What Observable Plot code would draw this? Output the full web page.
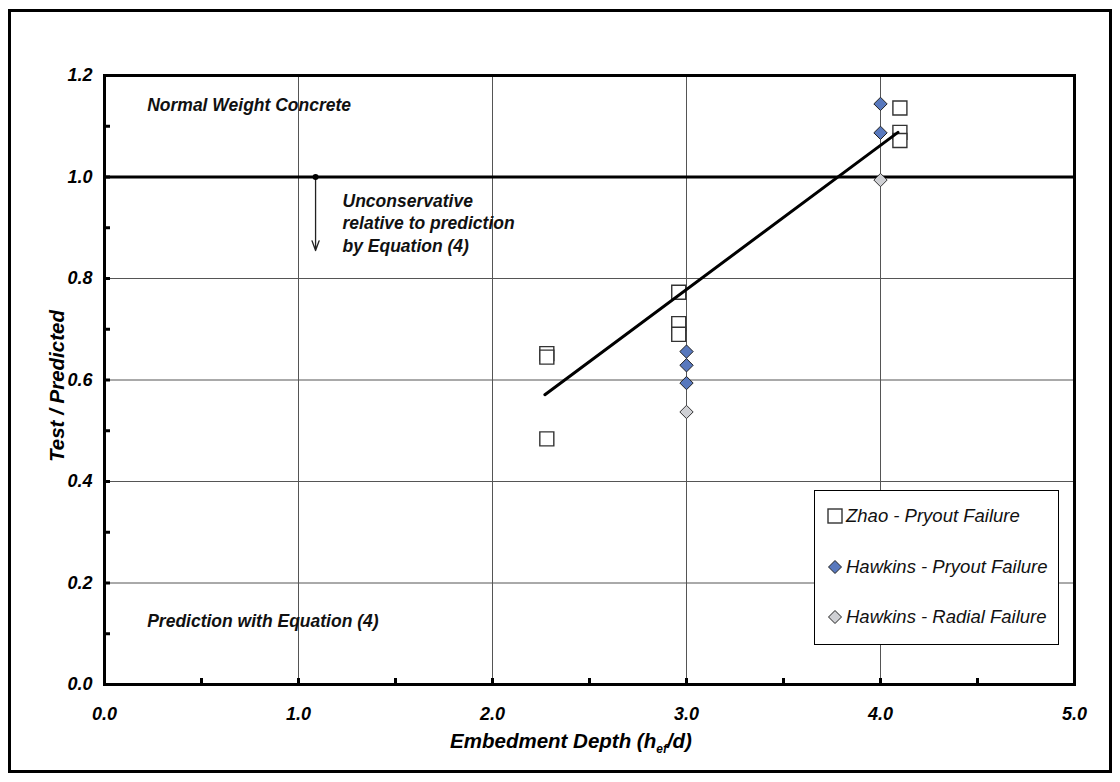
<!DOCTYPE html>
<html><head><meta charset="utf-8">
<script src="https://cdn.jsdelivr.net/npm/d3@7"></script>
<script src="https://cdn.jsdelivr.net/npm/@observablehq/plot@0.6"></script>
<style>
body{margin:0;background:#fff;font-family:"Liberation Sans",Arial,sans-serif;}
#wrap{position:relative;width:1120px;height:782px;overflow:hidden;}
#border{position:absolute;left:8px;top:9px;width:1098px;height:758px;border:3px solid #000;pointer-events:none;}
#legend{position:absolute;left:814px;top:490px;width:243px;height:153px;border:1px solid #000;background:#fff;}
.row{position:absolute;left:12px;height:24px;display:flex;align-items:center;font-style:italic;font-size:18.5px;color:#111;white-space:nowrap;}
.row svg{margin-right:3px;}
</style></head>
<body><div id="wrap"><div id="chart"></div><div id="border"></div><div id="legend"></div></div>
<script>
// ---- data ----
const zhaoX = [2.28, 2.28, 2.28, 2.96, 2.96, 2.96, 4.10, 4.10, 4.10];
const zhaoY = [0.652, 0.645, 0.484, 0.773, 0.711, 0.690, 1.136, 1.088, 1.072];
const hawkPryX = [3.0, 3.0, 3.0, 4.0, 4.0];
const hawkPryY = [0.656, 0.629, 0.594, 1.144, 1.087];
const hawkRadX = [3.0, 4.0];
const hawkRadY = [0.537, 0.994];
const trendX = [2.27, 4.09];
const trendY = [0.571, 1.088];
const xTicks = [0, 1, 2, 3, 4, 5];
const xMinor = [0, 0.5, 1, 1.5, 2, 2.5, 3, 3.5, 4, 4.5, 5];
const yTicks = [0, 0.2, 0.4, 0.6, 0.8, 1.0, 1.2];
const yMinor = [0, 0.1, 0.2, 0.3, 0.4, 0.5, 0.6, 0.7, 0.8, 0.9, 1.0, 1.1, 1.2];
const xGrid = [1, 2, 3, 4];
const yGrid = [0.2, 0.4, 0.6, 0.8];
const refLine = [1.0];
const notes = [
  {x: 0.22, y: 1.142, text: "Normal Weight Concrete"},
  {x: 0.22, y: 0.125, text: "Prediction with Equation (4)"},
  {x: 1.227, y: 0.951, text: "Unconservative"},
  {x: 1.227, y: 0.9086, text: "relative to prediction"},
  {x: 1.227, y: 0.8638, text: "by Equation (4)"}
];
const arrowX = [1.088];
const arrowY1 = [1.0];
const arrowY2 = [0.855];
const seriesNames = ["Zhao - Pryout Failure", "Hawkins - Pryout Failure", "Hawkins - Radial Failure"];
const seriesFill = ["#ffffff", "#5878bd", "#cfd0d4"];
const xTitle = ["Embedment Depth (h", "ef", "/d)"];
const yTitle = "Test / Predicted";

const zhao = zhaoX.map((x, i) => ({x, y: zhaoY[i]}));
const hawkPry = hawkPryX.map((x, i) => ({x, y: hawkPryY[i]}));
const hawkRad = hawkRadX.map((x, i) => ({x, y: hawkRadY[i]}));
const trend = trendX.map((x, i) => ({x, y: trendY[i]}));
const arrows = arrowX.map((x, i) => ({x, y1: arrowY1[i], y2: arrowY2[i]}));

const font = {fontSize: 18, fontWeight: "bold", fontStyle: "italic"};
const fmt = d => d.toFixed(1);

const plot = Plot.plot({
  width: 1120, height: 782,
  marginLeft: 104, marginRight: 46, marginTop: 75, marginBottom: 98,
  x: {domain: [0, 5]},
  y: {domain: [0, 1.2]},
  style: {fontFamily: "'Liberation Sans', Arial, sans-serif", color: "#000", background: "transparent"},
  marks: [
    Plot.ruleX(xGrid, {stroke: "#555", strokeWidth: 1}),
    Plot.ruleY(yGrid, {stroke: "#555", strokeWidth: 1}),
    Plot.ruleY(refLine, {stroke: "#000", strokeWidth: 3}),
    Plot.axisX(xMinor, {tickSize: -6, tickFormat: () => "", strokeWidth: 3, label: null}),
    Plot.axisY(yMinor, {tickSize: -6, tickFormat: () => "", strokeWidth: 3, label: null}),
    Plot.axisX(xTicks, {tickSize: 0, tickPadding: 23, tickFormat: fmt, label: null, ...font}),
    Plot.axisY(yTicks, {tickSize: 0, tickPadding: 12, tickFormat: fmt, label: null, ...font}),
    Plot.frame({stroke: "#000", strokeWidth: 3}),
    Plot.dot(zhao, {x: "x", y: "y", symbol: "square", r: 7.9, fill: seriesFill[0], stroke: "#333", strokeWidth: 1.4}),
    Plot.dot(hawkPry, {x: "x", y: "y", symbol: "diamond2", r: 6, fill: seriesFill[1], stroke: "#222", strokeWidth: 1}),
    Plot.dot(hawkRad, {x: "x", y: "y", symbol: "diamond2", r: 6, fill: seriesFill[2], stroke: "#333", strokeWidth: 1}),
    Plot.line(trend, {x: "x", y: "y", stroke: "#000", strokeWidth: 3}),
    Plot.arrow(arrows, {x: "x", y1: "y1", y2: "y2", stroke: "#222", strokeWidth: 1.3, headLength: 12, headAngle: 40}),
    Plot.dot(arrows, {x: "x", y: "y1", r: 3, fill: "#000"}),
    Plot.text(notes, {x: "x", y: "y", text: "text", textAnchor: "start", fontSize: 17.5, fontWeight: "bold", fontStyle: "italic", fill: "#111"})
  ]
});
document.getElementById("chart").appendChild(plot);

// axis titles
const svg = d3.select(plot);
const xt = svg.append("text")
  .attr("x", 571).attr("y", 748)
  .attr("text-anchor", "middle")
  .attr("font-size", 20.5).attr("font-weight", "bold").attr("font-style", "italic").attr("fill", "#000");
xt.append("tspan").text(xTitle[0]);
xt.append("tspan").attr("font-size", 12).attr("dy", 5).text(xTitle[1]);
xt.append("tspan").attr("dy", -5).text(xTitle[2]);
svg.append("text")
  .attr("transform", "translate(64,386) rotate(-90)")
  .attr("text-anchor", "middle")
  .attr("font-size", 20.5).attr("font-weight", "bold").attr("font-style", "italic").attr("fill", "#000")
  .text(yTitle);

// legend
const legend = document.getElementById("legend");
const rowTops = [13, 64, 114];
seriesNames.forEach((name, i) => {
  const row = document.createElement("div");
  row.className = "row";
  row.style.top = rowTops[i] + "px";
  const sym = i === 0
    ? `<svg width="16" height="16"><rect x="1" y="1" width="14" height="14" fill="${seriesFill[i]}" stroke="#333" stroke-width="1.4"/></svg>`
    : `<svg width="16" height="16"><path d="M8,1.5L14.5,8L8,14.5L1.5,8Z" fill="${seriesFill[i]}" stroke="#222" stroke-width="1"/></svg>`;
  row.innerHTML = sym + `<span>${name}</span>`;
  legend.appendChild(row);
});
</script></body></html>
